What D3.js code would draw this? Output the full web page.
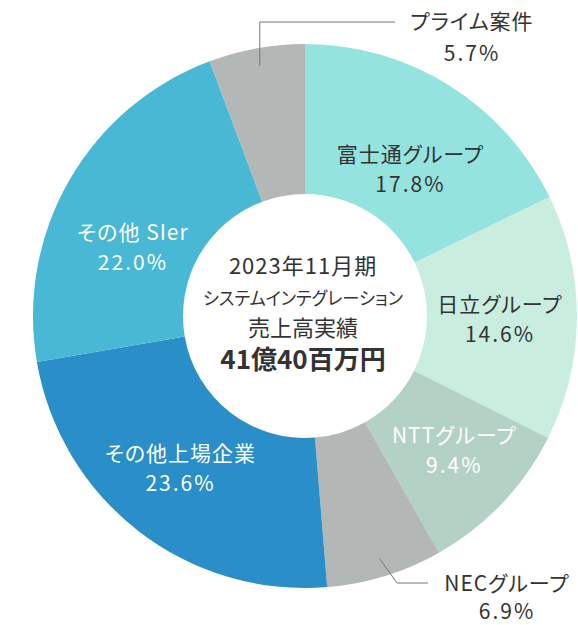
<!DOCTYPE html>
<html>
  <head>
    <meta charset="utf-8">
    <style>
      body { margin: 0; background: #fff; }
      text {
        font-family: "Noto Sans CJK JP", "Noto Sans", sans-serif;
        font-feature-settings: "palt";
      }
    </style>
    <script src="https://d3js.org/d3.v7.min.js"></script>
  </head>

  <body>
    <svg width="578" height="625"></svg>

    <script>
      var categories = ["富士通グループ", "日立グループ", "NTTグループ", "NECグループ", "その他上場企業", "その他 SIer", "プライム案件"];
      var shares = [17.8, 14.6, 9.4, 6.9, 23.6, 22.0, 5.7];
      var shareLabels = ["17.8%", "14.6%", "9.4%", "6.9%", "23.6%", "22.0%", "5.7%"];
      var centerLines = ["2023年11月期", "システムインテグレーション", "売上高実績"];
      var centerTotal = "41億40百万円";

      var colors = ["#95e3df", "#c9eee0", "#b4d1c6", "#b3b7b6", "#2a8ec9", "#49b8d5", "#b3b7b6"];
      var textColors = ["#333", "#333", "#fff", "#333", "#fff", "#fff", "#333"];

      var svg = d3.select("svg"),
        cx = 305,
        cy = 316,
        outerR = 272,
        innerR = 122;

      var g = svg.append("g")
        .attr("transform", "translate(" + cx + "," + cy + ")");

      var pie = d3.pie().sort(null).value(function (d) { return d; });
      var arcs = pie(shares);

      var arc = d3.arc().innerRadius(innerR).outerRadius(outerR);

      g.selectAll(".slice")
        .data(arcs)
        .enter()
        .append("path")
        .attr("class", "slice")
        .attr("d", arc)
        .attr("fill", function (d, i) { return colors[i]; });

      function twoLine(x, y, i, dy) {
        var t = g.append("text")
          .attr("text-anchor", "middle")
          .attr("fill", textColors[i])
          .attr("font-size", 21);
        t.append("tspan").attr("x", x).attr("y", y)
          .attr("letter-spacing", 1).text(categories[i]);
        t.append("tspan").attr("x", x).attr("y", y + dy)
          .attr("letter-spacing", 2).text(shareLabels[i]);
      }

      // label anchor points: centroid at a given radius, plus hand nudges
      var labelArc = d3.arc().innerRadius(195).outerRadius(195);
      var nudge = [[2, 18], [0, 2], [8, 0], [0, 0], [-5, -2], [-3, 28], [0, 0]];
      var outside = { 3: true, 6: true };

      arcs.forEach(function (d, i) {
        if (outside[i]) return;
        var c = labelArc.centroid(d);
        twoLine(c[0] + nudge[i][0], c[1] + nudge[i][1] - 7, i, 30);
      });

      // leader-line labels for the two thin grey slices
      var leadArc = d3.arc().innerRadius(254).outerRadius(254);
      var line = d3.line();

      // プライム案件
      var p = leadArc.centroid(arcs[6]);
      var topY = 22 - cy;
      g.append("path")
        .attr("d", line([p, [p[0], topY], [395 - cx, topY]]))
        .attr("fill", "none")
        .attr("stroke", "#777")
        .attr("stroke-width", 1);
      twoLine(472 - cx, 29 - cy, 6, 32);

      // NECグループ
      var q = leadArc.centroid(arcs[3]);
      var lowY = 583 - cy;
      g.append("path")
        .attr("d", line([q, [397 - cx, lowY], [428 - cx, lowY]]))
        .attr("fill", "none")
        .attr("stroke", "#777")
        .attr("stroke-width", 1);
      twoLine(507 - cx, 591 - cy, 3, 28);

      // centre text
      var ct = g.append("text")
        .attr("text-anchor", "middle")
        .attr("fill", "#333");
      ct.append("tspan").attr("x", -2).attr("y", -42).attr("font-size", 22)
        .attr("letter-spacing", 1).text(centerLines[0]);
      ct.append("tspan").attr("x", -2).attr("y", -11).attr("font-size", 18)
        .attr("textLength", 200).attr("lengthAdjust", "spacingAndGlyphs").text(centerLines[1]);
      ct.append("tspan").attr("x", -2).attr("y", 20).attr("font-size", 22).text(centerLines[2]);
      ct.append("tspan").attr("x", -2).attr("y", 53).attr("font-size", 26)
        .attr("font-weight", "bold").text(centerTotal);
    </script>
  </body>
</html>
